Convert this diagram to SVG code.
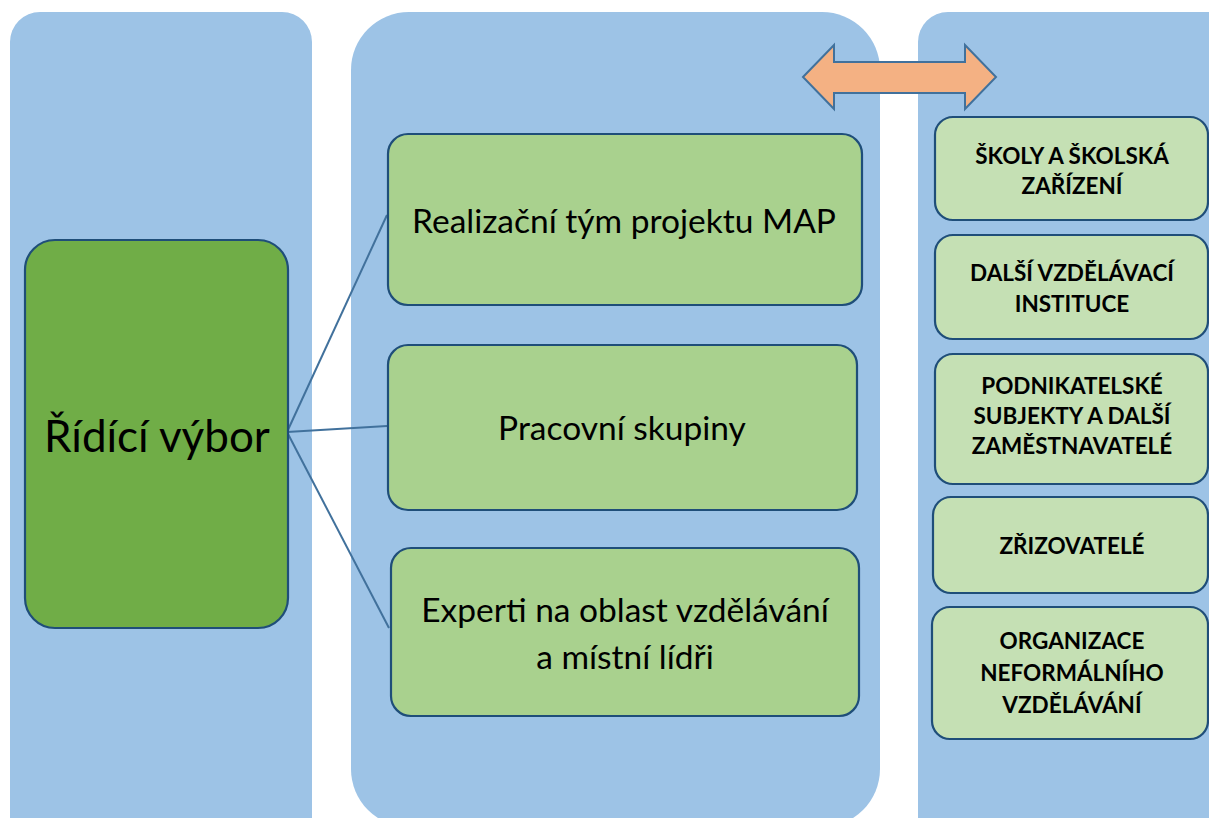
<svg xmlns="http://www.w3.org/2000/svg" width="1209" height="818" viewBox="0 0 1209 818">
<style>
.col{fill:#9DC3E6}
.box{stroke:#1F4E79;stroke-width:2.2}
.mid{fill:#A9D18E}
.side{fill:#C5E0B4}
.conn{stroke:#41719C;stroke-width:2;fill:none}
.t{font-family:Lato,"Open Sans","Liberation Sans",sans-serif;fill:#000;text-anchor:middle}
.m{font-size:33.5px}
.s{font-size:22.5px;font-weight:bold}
</style>
<rect width="1209" height="818" fill="#fff"/>
<g id="columns">
<rect class="col" x="10" y="12" width="302" height="840" rx="30"/>
<rect class="col" x="351" y="12" width="529" height="815" rx="58"/>
<rect class="col" x="918" y="12" width="330" height="840" rx="30"/>
</g>
<g id="connectors">
<line class="conn" x1="287" y1="432" x2="387" y2="215"/>
<line class="conn" x1="287" y1="432" x2="387" y2="426"/>
<line class="conn" x1="287" y1="432" x2="389" y2="628"/>
</g>
<g id="arrow">
<polygon points="803,77 834,45 834,62 965,62 965,45 996,77 965,109 965,93 834,93 834,109" fill="#F4B183" stroke="#41719C" stroke-width="2" stroke-linejoin="miter"/>
</g>
<g id="ridici-vybor">
<rect class="box" x="25" y="240" width="263" height="388" rx="30" fill="#70AD47"/>
<text class="t" x="157" y="452" font-size="44">Řídící výbor</text>
</g>
<g id="realizacni-tym">
<rect class="box mid" x="388" y="134" width="474" height="171" rx="20"/>
<text class="t m" x="624" y="233">Realizační tým projektu MAP</text>
</g>
<g id="pracovni-skupiny">
<rect class="box mid" x="388" y="345" width="469" height="165" rx="20"/>
<text class="t m" x="622" y="440">Pracovní skupiny</text>
</g>
<g id="experti">
<rect class="box mid" x="391" y="548" width="468" height="168" rx="20"/>
<text class="t m" x="625" y="622">Experti na oblast vzdělávání</text>
<text class="t m" x="625" y="669">a místní lídři</text>
</g>
<g id="skoly">
<rect class="box side" x="935" y="117" width="273" height="103" rx="18"/>
<text class="t s" x="1072" y="164">ŠKOLY A ŠKOLSKÁ</text>
<text class="t s" x="1072" y="194">ZAŘÍZENÍ</text>
</g>
<g id="dalsi-instituce">
<rect class="box side" x="935" y="235" width="273" height="104" rx="18"/>
<text class="t s" x="1072" y="281">DALŠÍ VZDĚLÁVACÍ</text>
<text class="t s" x="1072" y="312">INSTITUCE</text>
</g>
<g id="podnikatelske">
<rect class="box side" x="935" y="354" width="273" height="130" rx="18"/>
<text class="t s" x="1072" y="394">PODNIKATELSKÉ</text>
<text class="t s" x="1072" y="424">SUBJEKTY A DALŠÍ</text>
<text class="t s" x="1072" y="454">ZAMĚSTNAVATELÉ</text>
</g>
<g id="zrizovatele">
<rect class="box side" x="933" y="497" width="275" height="96" rx="18"/>
<text class="t s" x="1072" y="554">ZŘIZOVATELÉ</text>
</g>
<g id="organizace">
<rect class="box side" x="932" y="607" width="276" height="132" rx="18"/>
<text class="t s" x="1072" y="649">ORGANIZACE</text>
<text class="t s" x="1072" y="681">NEFORMÁLNÍHO</text>
<text class="t s" x="1072" y="713">VZDĚLÁVÁNÍ</text>
</g>
</svg>
